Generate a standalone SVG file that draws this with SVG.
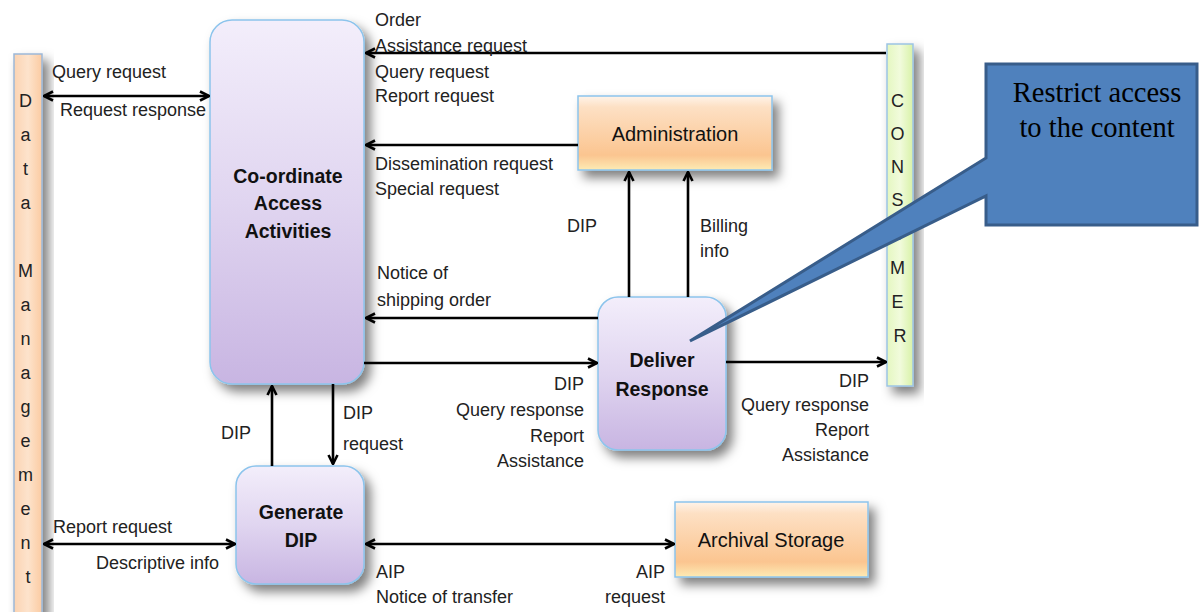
<svg xmlns="http://www.w3.org/2000/svg" width="1199" height="612" viewBox="0 0 1199 612">
  <defs>
    <linearGradient id="gPurple" x1="0" y1="0" x2="0" y2="1">
      <stop offset="0" stop-color="#f3eefb"/>
      <stop offset="0.5" stop-color="#e0d5f0"/>
      <stop offset="1" stop-color="#c8b5e2"/>
    </linearGradient>
    <linearGradient id="gPeach" x1="0" y1="0" x2="0" y2="1">
      <stop offset="0" stop-color="#fff4ea"/>
      <stop offset="0.15" stop-color="#fde0c4"/>
      <stop offset="0.8" stop-color="#fbc590"/>
      <stop offset="1" stop-color="#fdebb4"/>
    </linearGradient>
    <linearGradient id="gPeachV" x1="0" y1="0" x2="1" y2="0">
      <stop offset="0" stop-color="#fbd3b2"/>
      <stop offset="0.5" stop-color="#fde3cc"/>
      <stop offset="1" stop-color="#fbcba2"/>
    </linearGradient>
    <linearGradient id="gGreen" x1="0" y1="0" x2="1" y2="0">
      <stop offset="0" stop-color="#e4f7c0"/>
      <stop offset="0.5" stop-color="#f1fbdc"/>
      <stop offset="1" stop-color="#d8f2a8"/>
    </linearGradient>
    <filter id="shadow" x="-20%" y="-20%" width="160%" height="150%">
      <feDropShadow dx="6" dy="7" stdDeviation="5.5" flood-color="#000" flood-opacity="0.5"/>
    </filter>
    <marker id="arr" viewBox="0 0 12 12" refX="11" refY="6" markerWidth="12" markerHeight="12" markerUnits="userSpaceOnUse" orient="auto-start-reverse">
      <path d="M2,1.5 L11,6 L2,10.5" fill="none" stroke="#000" stroke-width="2.6"/>
    </marker>
    <style>
      .lbl { font-family: "Liberation Sans", Arial, sans-serif; font-size: 18px; fill: #222; }
      .r { text-anchor: end; }
      .node { font-family: "Liberation Sans", Arial, sans-serif; font-size: 19.5px; font-weight: bold; fill: #111; text-anchor: middle; }
      .plain { font-weight: normal; font-size: 20px; }
      .col { font-family: "Liberation Sans", Arial, sans-serif; font-size: 18px; fill: #222; text-anchor: middle; }
      .purple { fill: url(#gPurple); stroke: #8cc4ec; stroke-width: 1.5; filter: url(#shadow); }
      .peach { fill: url(#gPeach); stroke: #8cc4ec; stroke-width: 1.5; filter: url(#shadow); }
      .link { stroke: #000; stroke-width: 2.6; fill: none; }
      .callout { font-family: "Liberation Serif", "Times New Roman", serif; font-size: 28.5px; fill: #000; text-anchor: middle; }
    </style>
  </defs>

  <rect width="1199" height="612" fill="#fff"/>

  <!-- Data Management column -->
  <g id="data-management">
    <rect x="14" y="54" width="28" height="570" fill="url(#gPeachV)" stroke="#9cb8d8" stroke-width="1.5" filter="url(#shadow)"/>
    <text class="col">
      <tspan x="28" y="107">D</tspan>
      <tspan x="28" y="141">a</tspan>
      <tspan x="28" y="175">t</tspan>
      <tspan x="28" y="209">a</tspan>
      <tspan x="28" y="277">M</tspan>
      <tspan x="28" y="311">a</tspan>
      <tspan x="28" y="345">n</tspan>
      <tspan x="28" y="379">a</tspan>
      <tspan x="28" y="413">g</tspan>
      <tspan x="28" y="447">e</tspan>
      <tspan x="28" y="481">m</tspan>
      <tspan x="28" y="515">e</tspan>
      <tspan x="28" y="549">n</tspan>
      <tspan x="28" y="583">t</tspan>
    </text>
  </g>

  <!-- Consumer column -->
  <g id="consumer">
    <rect x="887" y="44" width="26" height="342" fill="url(#gGreen)" stroke="#9cc4e4" stroke-width="1.5" filter="url(#shadow)"/>
    <text class="col">
      <tspan x="900" y="107">C</tspan>
      <tspan x="900" y="140">O</tspan>
      <tspan x="900" y="173">N</tspan>
      <tspan x="900" y="206">S</tspan>
      <tspan x="900" y="240">U</tspan>
      <tspan x="900" y="274">M</tspan>
      <tspan x="900" y="308">E</tspan>
      <tspan x="900" y="342">R</tspan>
    </text>
  </g>

  <!-- Process nodes -->
  <g id="coordinate-access">
    <rect class="purple" x="210" y="20" width="154" height="364" rx="22"/>
    <text class="node"><tspan x="288" y="183">Co-ordinate</tspan><tspan x="288" y="210">Access</tspan><tspan x="288" y="238">Activities</tspan></text>
  </g>

  <g id="administration">
    <rect class="peach" x="578" y="96" width="194" height="74"/>
    <text class="node plain" x="675" y="141">Administration</text>
  </g>

  <g id="deliver-response">
    <rect class="purple" x="598" y="297" width="128" height="153" rx="20"/>
    <text class="node"><tspan x="662" y="367">Deliver</tspan><tspan x="662" y="396">Response</tspan></text>
  </g>

  <g id="generate-dip">
    <rect class="purple" x="236" y="466" width="128" height="118" rx="20"/>
    <text class="node"><tspan x="301" y="519">Generate</tspan><tspan x="301" y="547">DIP</tspan></text>
  </g>

  <g id="archival-storage">
    <rect class="peach" x="675" y="502" width="193" height="75"/>
    <text class="node plain" x="771" y="547">Archival Storage</text>
  </g>

  <!-- Connectors -->
  <g id="connectors">
    <line class="link" x1="886" y1="53" x2="366" y2="53" marker-end="url(#arr)"/>
    <line class="link" x1="44" y1="96" x2="209" y2="96" marker-start="url(#arr)" marker-end="url(#arr)"/>
    <line class="link" x1="578" y1="145" x2="366" y2="145" marker-end="url(#arr)"/>
    <line class="link" x1="598" y1="318" x2="366" y2="318" marker-end="url(#arr)"/>
    <line class="link" x1="364" y1="363" x2="597" y2="363" marker-end="url(#arr)"/>
    <line class="link" x1="726" y1="362" x2="886" y2="362" marker-end="url(#arr)"/>
    <line class="link" x1="629" y1="297" x2="629" y2="172" marker-end="url(#arr)"/>
    <line class="link" x1="688" y1="297" x2="688" y2="172" marker-end="url(#arr)"/>
    <line class="link" x1="272" y1="466" x2="272" y2="386" marker-end="url(#arr)"/>
    <line class="link" x1="333" y1="384" x2="333" y2="464" marker-end="url(#arr)"/>
    <line class="link" x1="44" y1="544" x2="235" y2="544" marker-start="url(#arr)" marker-end="url(#arr)"/>
    <line class="link" x1="366" y1="544" x2="674" y2="544" marker-start="url(#arr)" marker-end="url(#arr)"/>
  </g>

  <!-- Connector labels -->
  <g id="labels">
    <text class="lbl"><tspan x="375" y="26">Order</tspan><tspan x="375" y="52">Assistance request</tspan><tspan x="375" y="78">Query request</tspan><tspan x="375" y="102">Report request</tspan></text>
    <text class="lbl" x="52" y="78">Query request</text>
    <text class="lbl" x="60" y="116">Request response</text>
    <text class="lbl"><tspan x="375" y="170">Dissemination request</tspan><tspan x="375" y="195">Special request</tspan></text>
    <text class="lbl" x="567" y="232">DIP</text>
    <text class="lbl"><tspan x="700" y="232">Billing</tspan><tspan x="700" y="257">info</tspan></text>
    <text class="lbl"><tspan x="377" y="279">Notice of</tspan><tspan x="377" y="306">shipping order</tspan></text>
    <text class="lbl r"><tspan x="584" y="390">DIP</tspan><tspan x="584" y="416">Query response</tspan><tspan x="584" y="442">Report</tspan><tspan x="584" y="467">Assistance</tspan></text>
    <text class="lbl r"><tspan x="869" y="387">DIP</tspan><tspan x="869" y="411">Query response</tspan><tspan x="869" y="436">Report</tspan><tspan x="869" y="461">Assistance</tspan></text>
    <text class="lbl" x="221" y="439">DIP</text>
    <text class="lbl"><tspan x="343" y="419">DIP</tspan><tspan x="343" y="450">request</tspan></text>
    <text class="lbl" x="53" y="533">Report request</text>
    <text class="lbl" x="96" y="569">Descriptive info</text>
    <text class="lbl"><tspan x="376" y="578">AIP</tspan><tspan x="376" y="603">Notice of transfer</tspan></text>
    <text class="lbl r"><tspan x="665" y="578">AIP</tspan><tspan x="665" y="603">request</tspan></text>
  </g>

  <!-- Callout note -->
  <g id="callout">
    <path d="M986,64 H1197 V225 H986 V196 L690,341 L986,158 Z" fill="#4f81bd" stroke="#385d8a" stroke-width="3" stroke-linejoin="miter"/>
    <text class="callout"><tspan x="1097" y="102">Restrict access</tspan><tspan x="1097" y="137">to the content</tspan></text>
  </g>
</svg>
